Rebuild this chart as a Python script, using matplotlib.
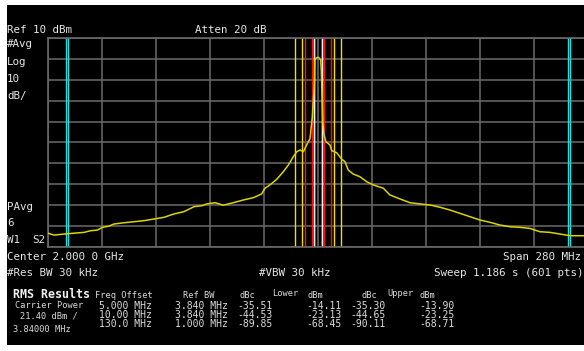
import numpy as np
import matplotlib.pyplot as plt
from matplotlib.patches import Rectangle

# sweep settings
center_mhz = 2000.0
span_mhz = 280.0
ref_dbm = 10.0
db_per_div = 10.0

# averaged trace, offset from center (MHz) and level (dBm)
trace_off = [-140.0, -136.9, -131.7, -126.5, -121.3, -117.9, -114.4, -111.8, -108.4, -105.8,
             -100.6, -95.4, -90.2, -85.0, -79.9, -74.7, -69.5, -64.3, -60.0, -57.7,
             -53.4, -49.1, -43.9, -38.7, -33.5, -29.2, -27.5, -24.9, -21.4, -18.0,
             -15.4, -12.8, -11.0, -9.3, -7.6, -5.9, -4.1, -3.6, -3.0, -2.4,
             -1.9, -1.6, -1.2, 0.2, 1.4, 1.7, 2.2, 2.5, 3.1, 4.1,
             6.2, 7.1, 9.7, 12.3, 14.0, 15.7, 18.3, 21.8, 25.3, 28.7,
             33.9, 37.3, 42.5, 47.7, 52.9, 58.1, 63.3, 68.4, 73.6, 78.8,
             84.0, 89.2, 94.4, 99.6, 104.7, 109.9, 115.1, 120.3, 125.5, 130.7,
             137.6, 140.0]
trace_dbm = [-83.4, -84.3, -83.8, -83.4, -83.0, -82.2, -81.9, -80.6, -80.0, -79.0,
             -78.4, -77.9, -77.4, -76.6, -75.8, -74.2, -73.1, -70.7, -70.2, -69.4,
             -68.8, -70.0, -68.8, -67.5, -66.4, -64.6, -61.9, -60.3, -57.6, -54.0,
             -50.8, -46.8, -44.4, -43.6, -44.4, -41.2, -38.0, -33.2, -28.4, -19.7,
             -12.5, -0.5, 0.3, 0.8, -0.5, -5.3, -20.6, -30.2, -36.4, -39.6,
             -41.2, -43.9, -44.9, -48.0, -49.2, -53.2, -55.1, -56.4, -58.8, -60.3,
             -61.9, -65.1, -67.0, -68.8, -69.4, -69.9, -71.0, -72.3, -73.9, -75.5,
             -77.1, -78.2, -79.5, -80.3, -80.6, -81.1, -82.7, -83.0, -83.8, -84.6,
             -84.6, -84.5]

# ACP measurement setup and results
carrier_bw = 3.84
offsets = [5.0, 10.0, 130.0]
ref_bws = [3.84, 3.84, 1.0]
offset_labels = ["5.000 MHz", "10.00 MHz", "130.0 MHz"]
ref_bw_labels = ["3.840 MHz", "3.840 MHz", "1.000 MHz"]
lower_dbc = ["-35.51", "-44.53", "-89.85"]
lower_dbm = ["-14.11", "-23.13", "-68.45"]
upper_dbc = ["-35.30", "-44.65", "-90.11"]
upper_dbm = ["-13.90", "-23.25", "-68.71"]
offset_colors = ["#ff1010", "#f0e000", "#20e0e0"]

W, H = 584, 351
fig = plt.figure(figsize=(W / 100, H / 100), dpi=100, facecolor="white")
fig.patches.append(Rectangle((7 / W, 6 / H), 1 - 7 / W, 340 / H, transform=fig.transFigure,
                             facecolor="black", edgecolor="none", zorder=-5))

# graticule: 10 x 10 divisions, right edge runs off the screen
ax = fig.add_axes([48 / W, (H - 247) / H, 540 / W, 209 / H])
ax.set_zorder(2)
ax.set_facecolor("black")
f0 = center_mhz - span_mhz / 2
ax.set_xlim(f0, f0 + span_mhz)
ax.set_ylim(ref_dbm - 10 * db_per_div, ref_dbm)
ax.set_xticks(np.linspace(f0, f0 + span_mhz, 11))
ax.set_yticks(np.linspace(ref_dbm - 10 * db_per_div, ref_dbm, 11))
ax.tick_params(length=0, labelbottom=False, labelleft=False)
ax.grid(True, color="#6a6a6a", lw=1.1)
for s in ax.spines.values():
    s.set_color("#6a6a6a")
    s.set_linewidth(1.2)

# integration band edges
for side in (-1, 1):
    for e in (-1, 1):
        ax.axvline(center_mhz + e * carrier_bw / 2, color="#f0f0f0", lw=1)
        for off, bw, c in zip(offsets, ref_bws, offset_colors):
            ax.axvline(center_mhz + side * off + e * bw / 2, color=c, lw=1)

freq = center_mhz + np.array(trace_off)
ax.plot(freq, trace_dbm, color="#dcd400", lw=1.1, zorder=5)

txt = dict(color="#e6e6e6", family="DejaVu Sans Mono", fontsize=7.8, va="center")
fig.text(7 / W, 1 - 30 / H, "Ref 10 dBm", **txt)
fig.text(195 / W, 1 - 30 / H, "Atten 20 dB", **txt)
for y, s in [(44, "#Avg"), (62, "Log"), (79, "10"), (96, "dB/"),
             (207, "PAvg"), (223, "6"), (240, "W1")]:
    fig.text(7 / W, 1 - y / H, s, **txt)
fig.text(32 / W, 1 - 240 / H, "S2", **txt)
fig.text(7 / W, 1 - 257 / H, "Center 2.000 0 GHz", **txt)
fig.text(503 / W, 1 - 257 / H, "Span 280 MHz", **txt)
fig.text(7 / W, 1 - 273 / H, "#Res BW 30 kHz", **txt)
fig.text(259 / W, 1 - 273 / H, "#VBW 30 kHz", **txt)
fig.text(434 / W, 1 - 273 / H, "Sweep 1.186 s (601 pts)", **txt)

# results table
small = dict(color="#dcdcdc", family="DejaVu Sans Mono", fontsize=6.2, va="center")
num = dict(color="#dcdcdc", family="DejaVu Sans Mono", fontsize=7.0, va="center")
fig.text(13 / W, 1 - 295 / H, "RMS Results", color="#f0f0f0", family="DejaVu Sans Mono",
         fontsize=8.4, weight="bold", va="center")
fig.text(95 / W, 1 - 296 / H, "Freq Offset", **small)
fig.text(183 / W, 1 - 296 / H, "Ref BW", **small)
fig.text(239 / W, 1 - 296 / H, "dBc", **small)
fig.text(272 / W, 1 - 293 / H, "Lower", **small)
fig.text(307 / W, 1 - 296 / H, "dBm", **small)
fig.text(362 / W, 1 - 296 / H, "dBc", **small)
fig.text(387 / W, 1 - 293 / H, "Upper", **small)
fig.text(420 / W, 1 - 296 / H, "dBm", **small)
fig.text(15 / W, 1 - 306 / H, "Carrier Power", **small)
fig.text(20 / W, 1 - 316 / H, "21.40 dBm /", **small)
fig.text(13 / W, 1 - 330 / H, "3.84000 MHz", **small)
for i, y in enumerate([306, 315, 324]):
    yy = 1 - y / H
    fig.text(99 / W, yy, offset_labels[i], **num)
    fig.text(175 / W, yy, ref_bw_labels[i], **num)
    fig.text(237 / W, yy, lower_dbc[i], **num)
    fig.text(306 / W, yy, lower_dbm[i], **num)
    fig.text(350 / W, yy, upper_dbc[i], **num)
    fig.text(419 / W, yy, upper_dbm[i], **num)

fig.savefig("out.png", dpi=100, facecolor="white")
